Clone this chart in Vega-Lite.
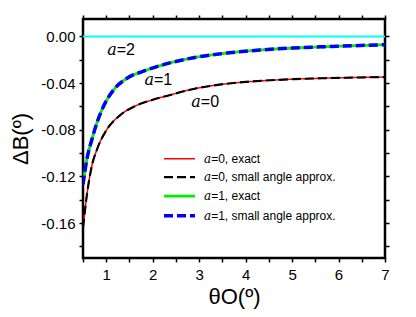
{
  "$schema": "https://vega.github.io/schema/vega-lite/v6.json",
  "width": 302,
  "height": 239,
  "autosize": {"type": "none"},
  "padding": {"left": 83, "top": 19, "right": 31, "bottom": 59},
  "config": {
    "view": {"stroke": "black", "strokeWidth": 2.5},
    "font": "Liberation Sans",
    "axis": {
      "domain": false, "grid": false,
      "labelFont": "Liberation Sans", "labelFontSize": 15, "labelColor": "black",
      "tickColor": "black", "tickWidth": 1.5,
      "titleFont": "Liberation Sans", "titleFontSize": 22, "titleFontWeight": "normal", "titleColor": "black"
    }
  },
  "datasets": {
    "curves": [
      {"series": "𝑎=0, exact", "x": 0.5, "y": -0.164},
      {"series": "𝑎=0, exact", "x": 0.58, "y": -0.137},
      {"series": "𝑎=0, exact", "x": 0.69, "y": -0.111},
      {"series": "𝑎=0, exact", "x": 0.8, "y": -0.097},
      {"series": "𝑎=0, exact", "x": 1.01, "y": -0.080},
      {"series": "𝑎=0, exact", "x": 1.3, "y": -0.0675},
      {"series": "𝑎=0, exact", "x": 1.66, "y": -0.0590},
      {"series": "𝑎=0, exact", "x": 2.0, "y": -0.0543},
      {"series": "𝑎=0, exact", "x": 2.3, "y": -0.0510},
      {"series": "𝑎=0, exact", "x": 2.88, "y": -0.0450},
      {"series": "𝑎=0, exact", "x": 3.6, "y": -0.0405},
      {"series": "𝑎=0, exact", "x": 4.31, "y": -0.0381},
      {"series": "𝑎=0, exact", "x": 5.03, "y": -0.0366},
      {"series": "𝑎=0, exact", "x": 5.75, "y": -0.0357},
      {"series": "𝑎=0, exact", "x": 7.0, "y": -0.0348},
      {"series": "𝑎=0, small angle approx.", "x": 0.5, "y": -0.164},
      {"series": "𝑎=0, small angle approx.", "x": 0.58, "y": -0.137},
      {"series": "𝑎=0, small angle approx.", "x": 0.69, "y": -0.111},
      {"series": "𝑎=0, small angle approx.", "x": 0.8, "y": -0.097},
      {"series": "𝑎=0, small angle approx.", "x": 1.01, "y": -0.080},
      {"series": "𝑎=0, small angle approx.", "x": 1.3, "y": -0.0675},
      {"series": "𝑎=0, small angle approx.", "x": 1.66, "y": -0.0590},
      {"series": "𝑎=0, small angle approx.", "x": 2.0, "y": -0.0543},
      {"series": "𝑎=0, small angle approx.", "x": 2.3, "y": -0.0510},
      {"series": "𝑎=0, small angle approx.", "x": 2.88, "y": -0.0450},
      {"series": "𝑎=0, small angle approx.", "x": 3.6, "y": -0.0405},
      {"series": "𝑎=0, small angle approx.", "x": 4.31, "y": -0.0381},
      {"series": "𝑎=0, small angle approx.", "x": 5.03, "y": -0.0366},
      {"series": "𝑎=0, small angle approx.", "x": 5.75, "y": -0.0357},
      {"series": "𝑎=0, small angle approx.", "x": 7.0, "y": -0.0348},
      {"series": "𝑎=1, exact", "x": 0.5, "y": -0.127},
      {"series": "𝑎=1, exact", "x": 0.58, "y": -0.106},
      {"series": "𝑎=1, exact", "x": 0.69, "y": -0.0885},
      {"series": "𝑎=1, exact", "x": 0.8, "y": -0.074},
      {"series": "𝑎=1, exact", "x": 0.94, "y": -0.060},
      {"series": "𝑎=1, exact", "x": 1.15, "y": -0.0462},
      {"series": "𝑎=1, exact", "x": 1.44, "y": -0.0360},
      {"series": "𝑎=1, exact", "x": 1.8, "y": -0.0298},
      {"series": "𝑎=1, exact", "x": 2.22, "y": -0.0243},
      {"series": "𝑎=1, exact", "x": 2.88, "y": -0.0182},
      {"series": "𝑎=1, exact", "x": 3.6, "y": -0.0142},
      {"series": "𝑎=1, exact", "x": 4.31, "y": -0.0116},
      {"series": "𝑎=1, exact", "x": 5.03, "y": -0.0099},
      {"series": "𝑎=1, exact", "x": 5.75, "y": -0.0087},
      {"series": "𝑎=1, exact", "x": 7.0, "y": -0.0071},
      {"series": "𝑎=1, small angle approx.", "x": 0.5, "y": -0.127},
      {"series": "𝑎=1, small angle approx.", "x": 0.58, "y": -0.106},
      {"series": "𝑎=1, small angle approx.", "x": 0.69, "y": -0.0885},
      {"series": "𝑎=1, small angle approx.", "x": 0.8, "y": -0.074},
      {"series": "𝑎=1, small angle approx.", "x": 0.94, "y": -0.060},
      {"series": "𝑎=1, small angle approx.", "x": 1.15, "y": -0.0462},
      {"series": "𝑎=1, small angle approx.", "x": 1.44, "y": -0.0360},
      {"series": "𝑎=1, small angle approx.", "x": 1.8, "y": -0.0298},
      {"series": "𝑎=1, small angle approx.", "x": 2.22, "y": -0.0243},
      {"series": "𝑎=1, small angle approx.", "x": 2.88, "y": -0.0182},
      {"series": "𝑎=1, small angle approx.", "x": 3.6, "y": -0.0142},
      {"series": "𝑎=1, small angle approx.", "x": 4.31, "y": -0.0116},
      {"series": "𝑎=1, small angle approx.", "x": 5.03, "y": -0.0099},
      {"series": "𝑎=1, small angle approx.", "x": 5.75, "y": -0.0087},
      {"series": "𝑎=1, small angle approx.", "x": 7.0, "y": -0.0071}
    ],
    "labels": [
      {"label": "𝑎=2", "x": 1.32, "y": -0.0114},
      {"label": "𝑎=1", "x": 2.12, "y": -0.0371},
      {"label": "𝑎=0", "x": 3.13, "y": -0.056}
    ],
    "zero": [{"y": 0}]
  },
  "layer": [
    {
      "data": {"name": "zero"},
      "mark": {"type": "rule", "color": "#00FFFF", "strokeWidth": 2},
      "encoding": {
        "y": {"field": "y", "type": "quantitative", "scale": {"domain": [-0.19, 0.015], "nice": false, "zero": false}, "axis": null}
      }
    },
    {
      "data": {"name": "curves"},
      "mark": {"type": "line", "clip": true, "interpolate": "monotone"},
      "encoding": {
        "x": {
          "field": "x", "type": "quantitative",
          "scale": {"domain": [0.5, 7], "nice": false, "zero": false},
          "axis": {
            "orient": "bottom",
            "values": [0.5, 1, 1.5, 2, 2.5, 3, 3.5, 4, 4.5, 5, 5.5, 6, 6.5, 7],
            "labelExpr": "datum.value % 1 === 0 ? format(datum.value, 'd') : ''",
            "ticks": true,
            "tickSize": 4,
            "tickColor": "black",
            "labelPadding": 5,
            "labelFlush": false,
            "labelOverlap": false,
            "title": "θO(º)",
            "titlePadding": 4
          }
        },
        "y": {
          "field": "y", "type": "quantitative",
          "scale": {"domain": [-0.19, 0.015], "nice": false, "zero": false},
          "axis": {
            "orient": "left",
            "values": [0, -0.02, -0.04, -0.06, -0.08, -0.1, -0.12, -0.14, -0.16, -0.18],
            "labelExpr": "abs(round(datum.value*100)) % 4 === 0 ? replace(format(datum.value, '.2f'), '\u2212', '-') : ''",
            "ticks": true,
            "tickSize": 4,
            "tickColor": "black",
            "labelPadding": 4,
            "labelFlush": false,
            "labelOverlap": false,
            "title": "ΔB(º)",
            "titlePadding": 8
          }
        },
        "color": {
          "field": "series", "type": "nominal",
          "scale": {"domain": ["𝑎=0, exact", "𝑎=0, small angle approx.", "𝑎=1, exact", "𝑎=1, small angle approx."], "range": ["#FF0000", "#000000", "#00EE00", "#0000FF"]},
          "legend": {"title": null, "orient": "none", "legendX": 89.5, "legendY": 133.7, "symbolType": "M-3.1,0H3.1", "symbolSize": 100, "labelFontSize": 12, "labelFont": "Liberation Sans, DejaVu Serif, DejaVu Sans", "labelColor": "black", "labelOffset": 17.5, "rowPadding": 6, "padding": 0}
        },
        "strokeDash": {
          "field": "series", "type": "nominal",
          "scale": {"domain": ["𝑎=0, exact", "𝑎=0, small angle approx.", "𝑎=1, exact", "𝑎=1, small angle approx."], "range": [[1, 0], [9, 4], [1, 0], [9, 4]]},
          "legend": {"title": null, "orient": "none", "legendX": 89.5, "legendY": 133.7, "symbolType": "M-3.1,0H3.1", "symbolSize": 100, "labelFontSize": 12, "labelFont": "Liberation Sans, DejaVu Serif, DejaVu Sans", "labelColor": "black", "labelOffset": 17.5, "rowPadding": 6, "padding": 0}
        },
        "strokeWidth": {
          "field": "series", "type": "nominal",
          "scale": {"domain": ["𝑎=0, exact", "𝑎=0, small angle approx.", "𝑎=1, exact", "𝑎=1, small angle approx."], "range": [1.5, 3.5, 1.5, 3.5]},
          "legend": {"title": null, "orient": "none", "legendX": 89.5, "legendY": 133.7, "symbolType": "M-3.1,0H3.1", "symbolSize": 100, "labelFontSize": 12, "labelFont": "Liberation Sans, DejaVu Serif, DejaVu Sans", "labelColor": "black", "labelOffset": 17.5, "rowPadding": 6, "padding": 0}
        }
      }
    },
    {
      "data": {"name": "labels"},
      "mark": {"type": "text", "font": "Liberation Sans, DejaVu Serif, DejaVu Sans", "fontSize": 16, "color": "black"},
      "encoding": {
        "x": {
          "field": "x", "type": "quantitative",
          "scale": {"domain": [0.5, 7], "nice": false, "zero": false},
          "axis": {
            "orient": "top",
            "values": [0.5, 1, 1.5, 2, 2.5, 3, 3.5, 4, 4.5, 5, 5.5, 6, 6.5, 7],
            "labels": false,
            "ticks": true,
            "tickSize": 4,
            "tickColor": "black",
            "title": null
          }
        },
        "y": {
          "field": "y", "type": "quantitative",
          "scale": {"domain": [-0.19, 0.015], "nice": false, "zero": false},
          "axis": {
            "orient": "right",
            "values": [0, -0.02, -0.04, -0.06, -0.08, -0.1, -0.12, -0.14, -0.16, -0.18],
            "labels": false,
            "ticks": true,
            "tickSize": 4,
            "tickColor": "black",
            "title": null
          }
        },
        "text": {"field": "label", "type": "nominal"}
      }
    }
  ],
  "resolve": {"scale": {"x": "independent", "y": "independent"}}
}
